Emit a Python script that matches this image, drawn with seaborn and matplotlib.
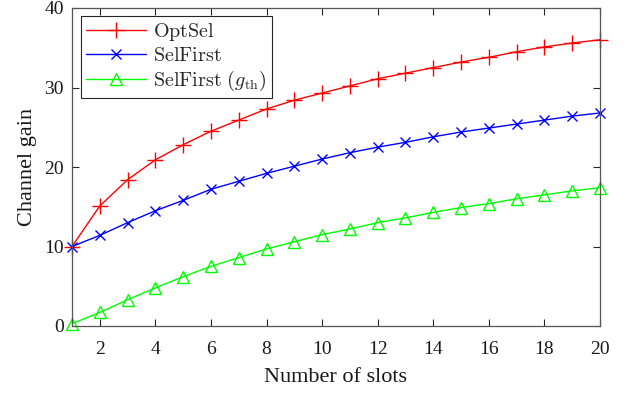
import matplotlib
matplotlib.use("Agg")
import matplotlib.pyplot as plt
import seaborn as sns
import pandas as pd

slots = list(range(1, 21))
optsel = [10.0, 15.1, 18.4, 20.9, 22.8, 24.5, 25.9, 27.3, 28.4, 29.3,
          30.2, 31.1, 31.8, 32.5, 33.2, 33.8, 34.5, 35.1, 35.6, 36.0]
selfirst = [10.0, 11.4, 13.0, 14.5, 15.8, 17.2, 18.2, 19.2, 20.1, 21.0,
            21.8, 22.5, 23.1, 23.8, 24.4, 24.9, 25.4, 25.9, 26.4, 26.8]
selfirst_gth = [0.3, 1.7, 3.3, 4.8, 6.2, 7.5, 8.6, 9.7, 10.6, 11.5,
                12.2, 13.0, 13.6, 14.3, 14.9, 15.4, 16.0, 16.5, 17.0, 17.4]
series_names = [r"$\mathrm{OptSel}$", r"$\mathrm{SelFirst}$",
                r"$\mathrm{SelFirst}\ (g_{\mathrm{th}})$"]

sns.set_theme(style="ticks")
plt.rcParams["font.family"] = ["Liberation Serif", "DejaVu Serif"]
plt.rcParams["mathtext.fontset"] = "cm"

df = pd.DataFrame({
    "slots": slots * 3,
    "gain": optsel + selfirst + selfirst_gth,
    "series": [series_names[0]] * 20 + [series_names[1]] * 20 + [series_names[2]] * 20,
})

fig = plt.figure(figsize=(6.35, 3.94), dpi=100)
ax = fig.add_axes([72 / 635, 1 - 326 / 394, 528 / 635, 318 / 394])

styles = {
    series_names[0]: dict(color="#ff0000", marker="+", ms=11, mew=1.0),
    series_names[1]: dict(color="#0000ff", marker="x", ms=7, mew=1.0),
    series_names[2]: dict(color="#00ff00", marker="^", ms=9, mew=1.0, mfc="none"),
}
for name in series_names:
    st = styles[name]
    sub = df[df["series"] == name]
    sns.lineplot(data=sub, x="slots", y="gain", ax=ax, color=st["color"],
                 lw=1.0, label=name, marker=st["marker"], markersize=st["ms"],
                 markeredgewidth=st["mew"], markeredgecolor=st["color"],
                 markerfacecolor=st.get("mfc", st["color"]), clip_on=False)

ax.set_xlim(1, 20)
ax.set_ylim(0, 40)
ax.set_xticks(range(2, 21, 2))
ax.set_yticks(range(0, 41, 10))
ax.tick_params(direction="in", top=True, right=True, length=5, width=0.8,
               colors="#262626", labelsize=14, labelcolor="#1a1a1a")
ax.tick_params(axis="x", pad=11)
ax.tick_params(axis="y", pad=6)
for sp in ax.spines.values():
    sp.set_color("#555555")
    sp.set_linewidth(0.9)
ax.set_xlabel("Number of slots", fontsize=16, color="#1a1a1a", labelpad=7)
ax.set_ylabel("Channel gain", fontsize=16, color="#1a1a1a", labelpad=5)

leg = ax.legend(loc="upper left", fontsize=14.5, frameon=True, fancybox=False,
                edgecolor="#262626", framealpha=1, handlelength=3.0,
                handletextpad=0.35, bbox_to_anchor=(0.017, 0.975),
                borderaxespad=0.0, labelspacing=0.18, borderpad=0.25)
leg.get_frame().set_linewidth(0.8)

fig.savefig("out.png", dpi=100)
